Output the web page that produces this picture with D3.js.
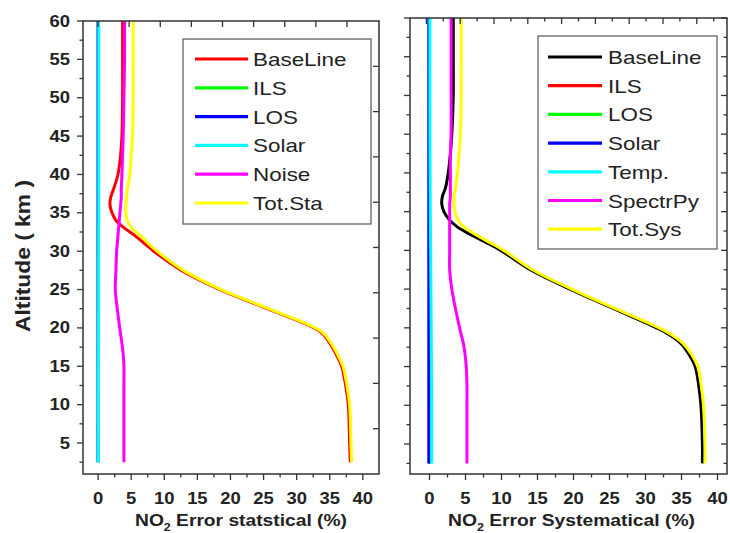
<!DOCTYPE html>
<html>
<head>
<meta charset="utf-8">
<script src="https://cdn.jsdelivr.net/npm/d3@7"></script>
<style>
  body { margin: 0; background: #fff; }
  text { font-family: Arial, "Liberation Sans", sans-serif; }
</style>
</head>
<body>
<svg id="chart"></svg>
<script>
// altitude grid shared by every profile (km)
const altitude = [2.5, 5, 10, 12.5, 15, 16.5, 18, 19.5, 22.5, 25, 27.5, 30, 31, 32, 33, 34, 35, 36, 37, 38, 40, 42.5, 45, 50, 55, 60];

// statistical errors (%)
const staBaseLine = [38.1, 38.0, 37.8, 37.4, 36.8, 36.0, 35.0, 33.6, 25.6, 18.4, 12.6, 8.4, 7.0, 5.6, 4.0, 2.7, 2.1, 1.8, 1.9, 2.3, 3.0, 3.4, 3.6, 3.7, 3.7, 3.7];
const staILS = [0.02, 0.02, 0.02, 0.02, 0.02, 0.02, 0.02, 0.02, 0.02, 0.02, 0.02, 0.02, 0.02, 0.02, 0.02, 0.02, 0.02, 0.02, 0.02, 0.02, 0.02, 0.02, 0.02, 0.02, 0.02, 0.02];
const staLOS = [0, 0, 0, 0, 0, 0, 0, 0, 0, 0, 0, 0, 0, 0, 0, 0, 0, 0, 0, 0, 0, 0, 0, 0, 0, 0];
const staSolar = [0.05, 0.05, 0.06, 0.06, 0.06, 0.07, 0.07, 0.07, 0.08, 0.08, 0.08, 0.09, 0.09, 0.09, 0.09, 0.1, 0.1, 0.1, 0.1, 0.1, 0.1, 0.1, 0.1, 0.1, 0.1, 0.1];
const staNoise = [3.9, 3.9, 3.9, 3.9, 3.9, 3.8, 3.6, 3.35, 2.9, 2.6, 2.7, 2.8, 2.9, 3.0, 3.1, 3.2, 3.3, 3.4, 3.5, 3.5, 3.6, 3.7, 3.8, 3.9, 4.0, 4.0];
const staTotal = [38.3, 38.2, 38.0, 37.6, 37.0, 36.2, 35.2, 33.8, 25.8, 18.6, 12.9, 8.9, 7.6, 6.4, 5.1, 4.4, 4.2, 4.2, 4.3, 4.4, 4.8, 5.0, 5.2, 5.3, 5.3, 5.3];

// systematic errors (%)
const sysBaseLine = [37.9, 37.9, 37.7, 37.4, 36.9, 36.1, 34.9, 32.6, 25.5, 19.5, 14.0, 9.9, 7.9, 5.8, 3.9, 2.7, 2.0, 1.7, 1.8, 2.2, 2.6, 2.9, 3.1, 3.3, 3.3, 3.3];
const sysILS = [0, 0, 0, 0, 0, 0, 0, 0, 0, 0, 0, 0, 0, 0, 0, 0, 0, 0, 0, 0, 0, 0, 0, 0, 0, 0];
const sysLOS = [0, 0, 0, 0, 0, 0, 0, 0, 0, 0, 0, 0, 0, 0, 0, 0, 0, 0, 0, 0, 0, 0, 0, 0, 0, 0];
const sysSolar = [-0.1, -0.1, -0.1, -0.1, -0.1, -0.1, -0.1, -0.1, -0.1, -0.1, -0.1, -0.1, -0.1, -0.1, -0.1, -0.1, -0.1, -0.1, -0.1, -0.1, -0.1, -0.1, -0.1, -0.1, -0.1, -0.1];
const sysTemp = [0.3, 0.3, 0.3, 0.29, 0.28, 0.26, 0.25, 0.24, 0.22, 0.2, 0.18, 0.16, 0.15, 0.14, 0.13, 0.12, 0.11, 0.1, 0.1, 0.09, 0.08, 0.07, 0.06, 0.05, 0.05, 0.05];
const sysSpectrPy = [5.2, 5.2, 5.2, 5.2, 5.1, 4.95, 4.7, 4.3, 3.6, 3.1, 2.8, 2.8, 2.8, 2.8, 2.8, 2.8, 2.8, 2.8, 2.9, 2.9, 2.9, 2.9, 3.0, 3.0, 3.0, 3.0];
const sysTotal = [38.25, 38.25, 38.06, 37.75, 37.25, 36.45, 35.2, 32.9, 25.75, 19.75, 14.3, 10.3, 8.4, 6.5, 4.8, 3.9, 3.5, 3.4, 3.4, 3.6, 3.9, 4.1, 4.3, 4.4, 4.4, 4.4];

const xTicks = [0, 5, 10, 15, 20, 25, 30, 35, 40];
const yTicks = [5, 10, 15, 20, 25, 30, 35, 40, 45, 50, 55, 60];

const svg = d3.select("#chart")
    .attr("width", 730)
    .attr("height", 533);

const axisColor = "#333";

// stretch text horizontally (the original picture is a bit wide)
function stretch(sel, k) {
    sel.each(function() {
        const w = this.getComputedTextLength();
        d3.select(this).attr("textLength", w * k).attr("lengthAdjust", "spacingAndGlyphs");
    });
}

function tickMarks(g, scale, values, orient, len) {
    g.selectAll(null)
        .data(values)
        .enter().append("line")
        .attr("stroke", axisColor)
        .attr("stroke-width", 1.3)
        .each(function(d) {
            const p = scale(d);
            const s = d3.select(this);
            if (orient === "h") s.attr("x1", p).attr("x2", p).attr("y1", 0).attr("y2", len);
            else s.attr("y1", p).attr("y2", p).attr("x1", 0).attr("x2", len);
        });
}

function drawPanel(p) {
    const g = svg.append("g");
    const x = p.x, y = p.y;
    const [x0, x1] = x.range();
    const [y0, y1] = y.range();

    // curves
    const line = d3.line()
        .x(d => x(d[1]))
        .y(d => y(d[0]))
        .curve(d3.curveCatmullRom.alpha(0.5));

    g.append("g")
        .selectAll("path")
        .data(p.series)
        .enter().append("path")
        .attr("d", s => line(altitude.map((a, i) => [a, s.values[i]])))
        .attr("fill", "none")
        .attr("stroke", s => s.color)
        .attr("stroke-width", 3);

    // frame
    g.append("rect")
        .attr("x", x0).attr("y", y1)
        .attr("width", x1 - x0).attr("height", y0 - y1)
        .attr("fill", "none")
        .attr("stroke", axisColor)
        .attr("stroke-width", 1.5);

    // bottom axis, outward ticks
    const minorX = d3.range(2.5, 41, 5);
    const bot = g.append("g").attr("transform", `translate(0,${y0})`);
    tickMarks(bot, x, xTicks, "h", 6);
    tickMarks(bot, x, minorX, "h", 3.5);
    bot.selectAll("text.tl")
        .data(xTicks)
        .enter().append("text")
        .attr("class", "tl")
        .attr("x", d => x(d))
        .attr("y", 30)
        .attr("text-anchor", "middle")
        .attr("font-size", 16)
        .attr("font-weight", "bold")
        .attr("fill", "#222")
        .text(d => d)
        .call(stretch, 1.15);

    // left axis, outward ticks
    const minorY = d3.range(2.5, 60, 5);
    const left = g.append("g").attr("transform", `translate(${x0},0)`);
    tickMarks(left, y, yTicks, "v", -6);
    tickMarks(left, y, minorY, "v", -3.5);
    if (p.yLabels) {
        left.selectAll("text.tl")
            .data(yTicks)
            .enter().append("text")
            .attr("class", "tl")
            .attr("x", -13)
            .attr("y", d => y(d) + 5.5)
            .attr("text-anchor", "end")
            .attr("font-size", 16)
            .attr("font-weight", "bold")
            .attr("fill", "#222")
            .text(d => d)
            .call(stretch, 1.15);
    }

    // mirror axes, inward ticks
    const top = g.append("g").attr("transform", `translate(0,${y1})`);
    tickMarks(top, p.xTop, p.topMajor, "h", 6);
    if (p.topMinor) tickMarks(top, p.xTop, p.topMinor, "h", 3.5);
    const right = g.append("g").attr("transform", `translate(${x1},0)`);
    tickMarks(right, p.yRight, p.rightMajor, "v", -6);
    if (p.rightMinor) tickMarks(right, p.yRight, p.rightMinor, "v", -3.5);

    // x title
    const title = g.append("text")
        .attr("x", p.titleX)
        .attr("y", 526)
        .attr("font-size", 17)
        .attr("font-weight", "bold")
        .attr("fill", "#222");
    title.append("tspan").text("NO");
    title.append("tspan").attr("font-size", 11).attr("dy", 5).text("2");
    title.append("tspan").attr("dy", -5).text(" Error " + p.titleWord + " (%)");
    title.attr("textLength", p.titleW).attr("lengthAdjust", "spacingAndGlyphs");

    // legend
    const lg = g.append("g");
    lg.append("rect")
        .attr("x", p.legend.x).attr("y", p.legend.y)
        .attr("width", p.legend.w).attr("height", p.legend.h)
        .attr("fill", "#fff")
        .attr("stroke", "#555")
        .attr("stroke-width", 1.2);
    const row = lg.selectAll("g.row")
        .data(p.series)
        .enter().append("g")
        .attr("transform", (s, i) => `translate(${p.legend.x},${p.legend.first + i * p.legend.step})`);
    row.append("line")
        .attr("x1", p.legend.l1).attr("x2", p.legend.l2)
        .attr("stroke", s => s.color)
        .attr("stroke-width", 3.2);
    row.append("text")
        .attr("x", p.legend.tx)
        .attr("y", 7)
        .attr("font-size", 19)
        .attr("fill", "#222")
        .text(s => s.name)
        .call(stretch, 1.18);
}

// left panel: statistical
drawPanel({
    x: d3.scaleLinear().domain([-2.28, 42.44]).range([83, 379]),
    y: d3.scaleLinear().domain([0.96, 60]).range([474, 21]),
    xTop: d3.scaleLinear().domain([0, 40]).range([98, 347]),
    topMajor: xTicks,
    yRight: d3.scaleLinear().domain([10, 60]).range([474, 21]),
    rightMajor: d3.range(15, 60, 5),
    yLabels: true,
    titleX: 135, titleW: 212, titleWord: "statstical",
    series: [
        { name: "BaseLine", color: "#ff0000", values: staBaseLine },
        { name: "ILS", color: "#00ff00", values: staILS },
        { name: "LOS", color: "#0000ff", values: staLOS },
        { name: "Solar", color: "#00ffff", values: staSolar },
        { name: "Noise", color: "#ff00ff", values: staNoise },
        { name: "Tot.Sta", color: "#ffff00", values: staTotal }
    ],
    legend: { x: 183, y: 39, w: 188, h: 185, first: 59, step: 28.8, l1: 12, l2: 65, tx: 70 }
});

// right panel: systematic
drawPanel({
    x: d3.scaleLinear().domain([-2.71, 41.32]).range([410, 727]),
    y: d3.scaleLinear().domain([1.13, 60]).range([474, 18]),
    xTop: d3.scaleLinear().domain([0, 5]).range([426.4, 460.2]),
    topMajor: d3.range(0, 45, 5),
    topMinor: d3.range(2.5, 45, 5),
    yRight: d3.scaleLinear().domain([1.13, 60]).range([474, 18]),
    rightMajor: yTicks,
    rightMinor: d3.range(2.5, 60, 5),
    yLabels: false,
    titleX: 448, titleW: 247, titleWord: "Systematical",
    series: [
        { name: "BaseLine", color: "#000000", values: sysBaseLine },
        { name: "ILS", color: "#ff0000", values: sysILS },
        { name: "LOS", color: "#00ff00", values: sysLOS },
        { name: "Solar", color: "#0000ff", values: sysSolar },
        { name: "Temp.", color: "#00ffff", values: sysTemp },
        { name: "SpectrPy", color: "#ff00ff", values: sysSpectrPy },
        { name: "Tot.Sys", color: "#ffff00", values: sysTotal }
    ],
    legend: { x: 538, y: 36, w: 179, h: 213, first: 57, step: 28.7, l1: 10, l2: 64, tx: 70 }
});

// y title
svg.append("text")
    .attr("transform", "translate(30,256) rotate(-90)")
    .attr("text-anchor", "middle")
    .attr("font-size", 20)
    .attr("font-weight", "bold")
    .attr("fill", "#222")
    .attr("textLength", 152)
    .attr("lengthAdjust", "spacingAndGlyphs")
    .text("Altitude ( km )");
</script>
</body>
</html>
